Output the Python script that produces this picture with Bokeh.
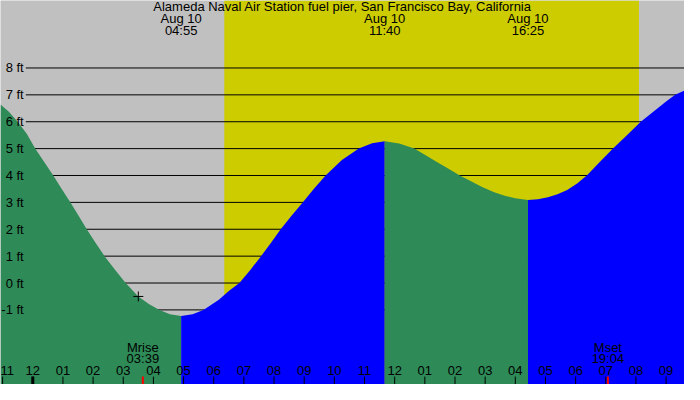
from bokeh.plotting import figure
from bokeh.models import Range1d
from bokeh.core.properties import value
from bokeh.embed import file_html
from bokeh.resources import INLINE

# tide curve (hours from midnight Aug 10, feet)
tide_hours = [-1.07, -0.8, -0.5, -0.2, 0.08, 0.38, 0.68, 0.96, 1.25, 1.52, 1.79, 2.08,
              2.38, 2.72, 3.08, 3.5, 3.85, 4.2, 4.55, 4.92, 5.3, 5.66, 6.17, 6.5, 6.85,
              7.2, 7.57, 7.9, 8.22, 8.58, 8.95, 9.33, 9.71, 10.25, 10.81, 11.25, 11.67,
              12.15, 12.65, 13.0, 13.4, 13.8, 14.16, 14.5, 14.9, 15.3, 15.65, 16.0, 16.42,
              16.75, 17.08, 17.4, 17.72, 18.05, 18.37, 18.8, 19.24, 19.7, 20.16, 20.7,
              21.0, 21.3, 21.61]
tide_feet = [6.64, 6.38, 6.0, 5.55, 5.0, 4.5, 4.0, 3.5, 3.0, 2.5, 2.0, 1.5,
             1.0, 0.5, 0.0, -0.5, -0.78, -1.0, -1.16, -1.23, -1.16, -1.0, -0.62, -0.3, 0.0,
             0.47, 1.0, 1.5, 2.0, 2.5, 3.0, 3.52, 4.0, 4.58, 5.0, 5.2, 5.27,
             5.19, 5.0, 4.77, 4.5, 4.24, 4.0, 3.8, 3.57, 3.38, 3.25, 3.15, 3.09,
             3.12, 3.19, 3.3, 3.46, 3.7, 4.0, 4.5, 5.0, 5.5, 6.0, 6.48,
             6.75, 7.0, 7.16]

extreme_hours = [4.92, 11.67, 16.42]
extreme_dates = ["Aug 10", "Aug 10", "Aug 10"]
extreme_times = ["04:55", "11:40", "16:25"]

sunrise, sunset = 6.35, 20.10

moon_hours = [3.65, 19.07]
moon_names = ["Mrise", "Mset"]
moon_times = ["03:39", "19:04"]

now_hour, now_feet = 3.5, -0.5

feet_levels = [-1, 0, 1, 2, 3, 4, 5, 6, 7, 8]
hour_ticks = list(range(-1, 22))
hour_labels = ["11", "12", "01", "02", "03", "04", "05", "06", "07", "08", "09", "10",
               "11", "12", "01", "02", "03", "04", "05", "06", "07", "08", "09"]

title = "Alameda Naval Air Station fuel pier, San Francisco Bay, California"

X0, X1 = -1.07, 21.61
Y0, Y1 = -3.775, 10.51
FONT = value("Liberation Sans")
FS = "13px"
GREEN = "#2E8B57"
BLUE = "#0000FF"

p = figure(width=684, height=384, output_backend="svg", toolbar_location=None,
           x_range=Range1d(X0, X1), y_range=Range1d(Y0, Y1), tools="",
           min_border=0, x_axis_location=None, y_axis_location=None)
p.grid.grid_line_color = None
p.outline_line_color = None
p.background_fill_color = "#C0C0C0"
p.border_fill_color = "#C0C0C0"

# daylight
p.quad(left=sunrise, right=sunset, bottom=Y0, top=Y1, fill_color="#CCCC00", line_color=None)

# grid lines
p.segment(x0=-0.23, x1=X1, y0=feet_levels, y1=feet_levels, line_color="black", line_width=1)

# tide fill, green while falling, blue while rising
cuts = [0] + [tide_hours.index(h) for h in extreme_hours] + [len(tide_hours) - 1]
for i in range(len(cuts) - 1):
    a, b = cuts[i], cuts[i + 1]
    col = GREEN if tide_feet[b] < tide_feet[a] else BLUE
    p.varea(x=tide_hours[a:b + 1], y1=Y0, y2=tide_feet[a:b + 1], fill_color=col)

# feet labels
p.text(x=-0.3, y=feet_levels, text=[f"{v} ft" for v in feet_levels], text_align="right",
       text_baseline="middle", text_font=FONT, text_font_size=FS, text_color="black")

# current position
p.scatter(x=[now_hour], y=[now_feet], marker="cross", size=10, line_color="black", line_width=1)

# title and extremes
p.text(x=10.27, y=10.27, text=[title], text_align="center", text_baseline="middle",
       text_font=FONT, text_font_size=FS, text_color="black")
p.text(x=extreme_hours, y=9.83, text=extreme_dates, text_align="center", text_baseline="middle",
       text_font=FONT, text_font_size=FS, text_color="black")
p.text(x=extreme_hours, y=9.40, text=extreme_times, text_align="center", text_baseline="middle",
       text_font=FONT, text_font_size=FS, text_color="black")

# moon rise/set
p.text(x=moon_hours, y=-2.41, text=moon_names, text_align="center", text_baseline="middle",
       text_font=FONT, text_font_size=FS, text_color="black")
p.text(x=moon_hours, y=-2.82, text=moon_times, text_align="center", text_baseline="middle",
       text_font=FONT, text_font_size=FS, text_color="black")

# hour axis (first label kept inside the left edge)
p.text(x=[X0], y=-3.26, text=hour_labels[:1], text_align="left", text_baseline="middle",
       text_font=FONT, text_font_size=FS, text_color="black")
p.text(x=hour_ticks[1:], y=-3.26, text=hour_labels[1:], text_align="center",
       text_baseline="middle", text_font=FONT, text_font_size=FS, text_color="black")
p.segment(x0=hour_ticks, x1=hour_ticks, y0=-3.48, y1=Y0, line_color="black", line_width=1)
p.segment(x0=[0], x1=[0], y0=-3.48, y1=Y0, line_color="black", line_width=3)
p.segment(x0=moon_hours, x1=moon_hours, y0=-3.48, y1=Y0, line_color="red", line_width=2)

open("out.html", "w").write(file_html(p, INLINE))
